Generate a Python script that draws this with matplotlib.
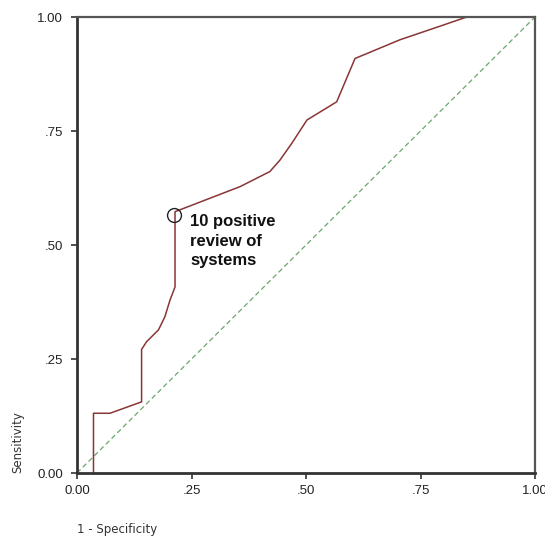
import matplotlib
matplotlib.use("Agg")
import matplotlib.pyplot as plt

# ROC curve data (1 - specificity, sensitivity)
fpr = [0.036, 0.036, 0.072, 0.141, 0.141, 0.152, 0.178, 0.192, 0.203, 0.214, 0.214,
       0.356, 0.421, 0.443, 0.469, 0.502, 0.567, 0.607, 0.705, 0.793, 0.851, 1.0]
tpr = [0.0, 0.131, 0.131, 0.156, 0.271, 0.288, 0.314, 0.343, 0.379, 0.408, 0.573,
       0.628, 0.661, 0.686, 0.723, 0.774, 0.814, 0.909, 0.950, 0.980, 1.0, 1.0]
ref_line = [0.0, 1.0]
marked_point = (0.212, 0.566)
marked_label = "10 positive\nreview of\nsystems"
tick_values = [0.0, 0.25, 0.5, 0.75, 1.0]
tick_labels = ["0.00", ".25", ".50", ".75", "1.00"]

plt.rcParams['font.family'] = ['Liberation Sans', 'DejaVu Sans']

fig = plt.figure(figsize=(5.45, 5.38), dpi=100)
ax = fig.add_axes([77/545, 1-473/538, 458/545, 456/538])

ax.plot(ref_line, ref_line, color='#6aa86a', lw=0.9, dashes=(4, 2.5))
ax.plot(fpr, tpr, color='#8a3535', lw=1.1)
ax.plot([marked_point[0]], [marked_point[1]], marker='o', ms=10, mfc='none',
        mec='#222222', mew=1.0, ls='none')
ax.text(marked_point[0] + 0.035, marked_point[1] + 0.001, marked_label,
        fontsize=12, fontweight='bold', color='#111111', va='top', ha='left',
        linespacing=1.37)

ax.set_xlim(0, 1)
ax.set_ylim(0, 1)
ax.set_xticks(tick_values)
ax.set_xticklabels(tick_labels)
ax.set_yticks(tick_values)
ax.set_yticklabels(tick_labels)
ax.tick_params(axis='both', direction='out', length=4, width=1.2, color='#333333',
               labelsize=9.5, labelcolor='#222222')
ax.tick_params(axis='y', pad=6)
ax.tick_params(axis='x', pad=5)

for s in ['left', 'bottom']:
    ax.spines[s].set_linewidth(2.0)
    ax.spines[s].set_color('#333333')
for s in ['top', 'right']:
    ax.spines[s].set_linewidth(1.6)
    ax.spines[s].set_color('#555555')

fig.text(18/545, 1-473/538, "Sensitivity", rotation=90, fontsize=8.5,
         family='DejaVu Sans', color='#333333', ha='center', va='bottom')
fig.text(77/545, 1-530/538, "1 - Specificity", fontsize=8.5, family='DejaVu Sans',
         color='#333333', ha='left', va='center')

fig.savefig("out.png", dpi=100)
